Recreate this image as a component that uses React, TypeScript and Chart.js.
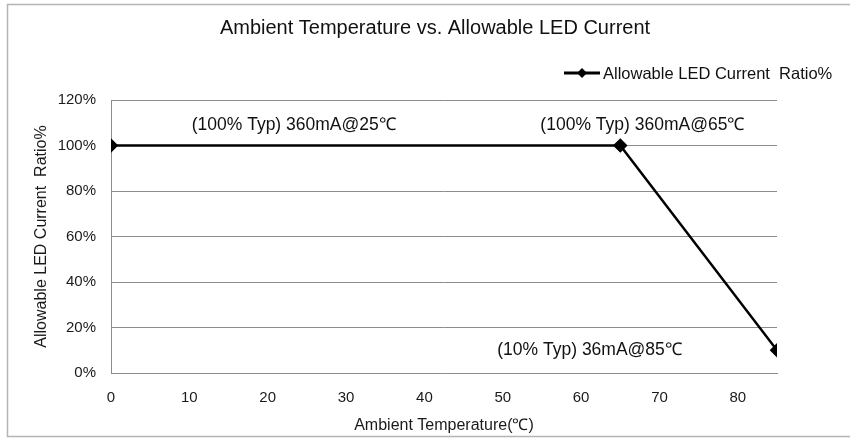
import { useEffect, useRef } from "react";
import { Chart, registerables } from "chart.js";

Chart.register(...registerables);

const temperatures = [0, 65, 85];
const currentRatio = [100, 100, 10];
const xTicks = [0, 10, 20, 30, 40, 50, 60, 70, 80];
const yTicks = [0, 20, 40, 60, 80, 100, 120];
const annotationTexts = ["(100% Typ) 360mA@25℃", "(100% Typ) 360mA@65℃", "(10% Typ) 36mA@85℃"];
const annotationX = [10.3, 54.8, 49.3];
const annotationY = [109, 109, 10];
const chartTitle = "Ambient Temperature vs. Allowable LED Current";
const seriesLabel = "Allowable LED Current  Ratio%";
const xTitle = "Ambient Temperature(℃)";
const yTitle = "Allowable LED Current  Ratio%";

const FONT = "'Liberation Sans', Arial, sans-serif";

function drawDiamond(ctx: CanvasRenderingContext2D, x: number, y: number, r: number) {
  ctx.beginPath();
  ctx.moveTo(x, y - r);
  ctx.lineTo(x + r, y);
  ctx.lineTo(x, y + r);
  ctx.lineTo(x - r, y);
  ctx.closePath();
  ctx.fill();
}

const decorPlugin = {
  id: "decor",
  beforeDraw(chart: any) {
    const ctx = chart.ctx as CanvasRenderingContext2D;
    ctx.save();
    ctx.fillStyle = "#ffffff";
    ctx.fillRect(0, 0, chart.width, chart.height);
    ctx.strokeStyle = "#b4b4b4";
    ctx.lineWidth = 1.5;
    ctx.strokeRect(7.5, 4.5, chart.width + 10, chart.height - 7);
    ctx.restore();
  },
  afterDatasetsDraw(chart: any) {
    const ctx = chart.ctx as CanvasRenderingContext2D;
    const xs = chart.scales.x;
    const ys = chart.scales.y;
    ctx.save();
    // title
    ctx.fillStyle = "#111111";
    ctx.font = `20px ${FONT}`;
    ctx.textAlign = "center";
    ctx.textBaseline = "middle";
    ctx.fillText(chartTitle, 435, 28);
    // legend
    ctx.strokeStyle = "#000000";
    ctx.lineWidth = 3;
    ctx.beginPath();
    ctx.moveTo(564, 73);
    ctx.lineTo(600, 73);
    ctx.stroke();
    ctx.fillStyle = "#000000";
    drawDiamond(ctx, 582, 73, 5);
    ctx.fillStyle = "#111111";
    ctx.font = `16.5px ${FONT}`;
    ctx.textAlign = "left";
    ctx.fillText(seriesLabel, 603, 74);
    // annotations
    ctx.font = `17.5px ${FONT}`;
    for (let i = 0; i < annotationTexts.length; i++) {
      ctx.fillText(
        annotationTexts[i],
        xs.getPixelForValue(annotationX[i]),
        ys.getPixelForValue(annotationY[i])
      );
    }
    ctx.restore();
  },
};

export default function App() {
  const ref = useRef<HTMLCanvasElement | null>(null);

  useEffect(() => {
    if (!ref.current) return;
    const chart = new Chart(ref.current, {
      type: "line",
      data: {
        datasets: [
          {
            label: seriesLabel,
            data: temperatures.map((t, i) => ({ x: t, y: currentRatio[i] })),
            borderColor: "#000000",
            backgroundColor: "#000000",
            borderWidth: 2.5,
            pointStyle: "rectRot",
            pointRadius: 5.5,
            pointBackgroundColor: "#000000",
            pointBorderColor: "#000000",
            tension: 0,
          },
        ],
      },
      options: {
        animation: false,
        responsive: false,
        maintainAspectRatio: false,
        devicePixelRatio: 1,
        layout: { padding: { top: 100, right: 73, bottom: 0, left: 0 } },
        plugins: {
          legend: { display: false },
          title: { display: false },
          tooltip: { enabled: false },
        },
        scales: {
          x: {
            type: "linear",
            min: 0,
            max: 85,
            afterFit: (s: any) => {
              s.height = 66;
            },
            afterBuildTicks: (s: any) => {
              s.ticks = xTicks.map((v) => ({ value: v }));
            },
            ticks: {
              includeBounds: false,
              stepSize: 10,
              padding: 16,
              color: "#1a1a1a",
              font: { family: FONT, size: 15 },
            },
            grid: { display: false, drawTicks: false },
            border: { display: true, color: "#8c8c8c", width: 1 },
            title: {
              display: true,
              text: xTitle,
              color: "#1a1a1a",
              font: { family: FONT, size: 16 },
              padding: { top: 0, bottom: 4 },
            },
          },
          y: {
            type: "linear",
            min: 0,
            max: 120,
            afterFit: (s: any) => {
              s.width = 111;
            },
            afterBuildTicks: (s: any) => {
              s.ticks = yTicks.map((v) => ({ value: v }));
            },
            ticks: {
              stepSize: 20,
              padding: 15,
              color: "#1a1a1a",
              font: { family: FONT, size: 15 },
              callback: (v: any) => `${v}%`,
            },
            grid: { color: "#8c8c8c", lineWidth: 1, drawTicks: false },
            border: { display: true, color: "#8c8c8c", width: 1 },
            title: {
              display: true,
              text: yTitle,
              color: "#1a1a1a",
              font: { family: FONT, size: 16 },
              padding: { top: 32, bottom: 0 },
            },
          },
        },
      },
      plugins: [decorPlugin],
    });
    return () => chart.destroy();
  }, []);

  return (
    <div style={{ position: "absolute", left: 0, top: 0, width: 850, height: 439 }}>
      <canvas ref={ref} width={850} height={439} style={{ display: "block", width: 850, height: 439 }} />
    </div>
  );
}
